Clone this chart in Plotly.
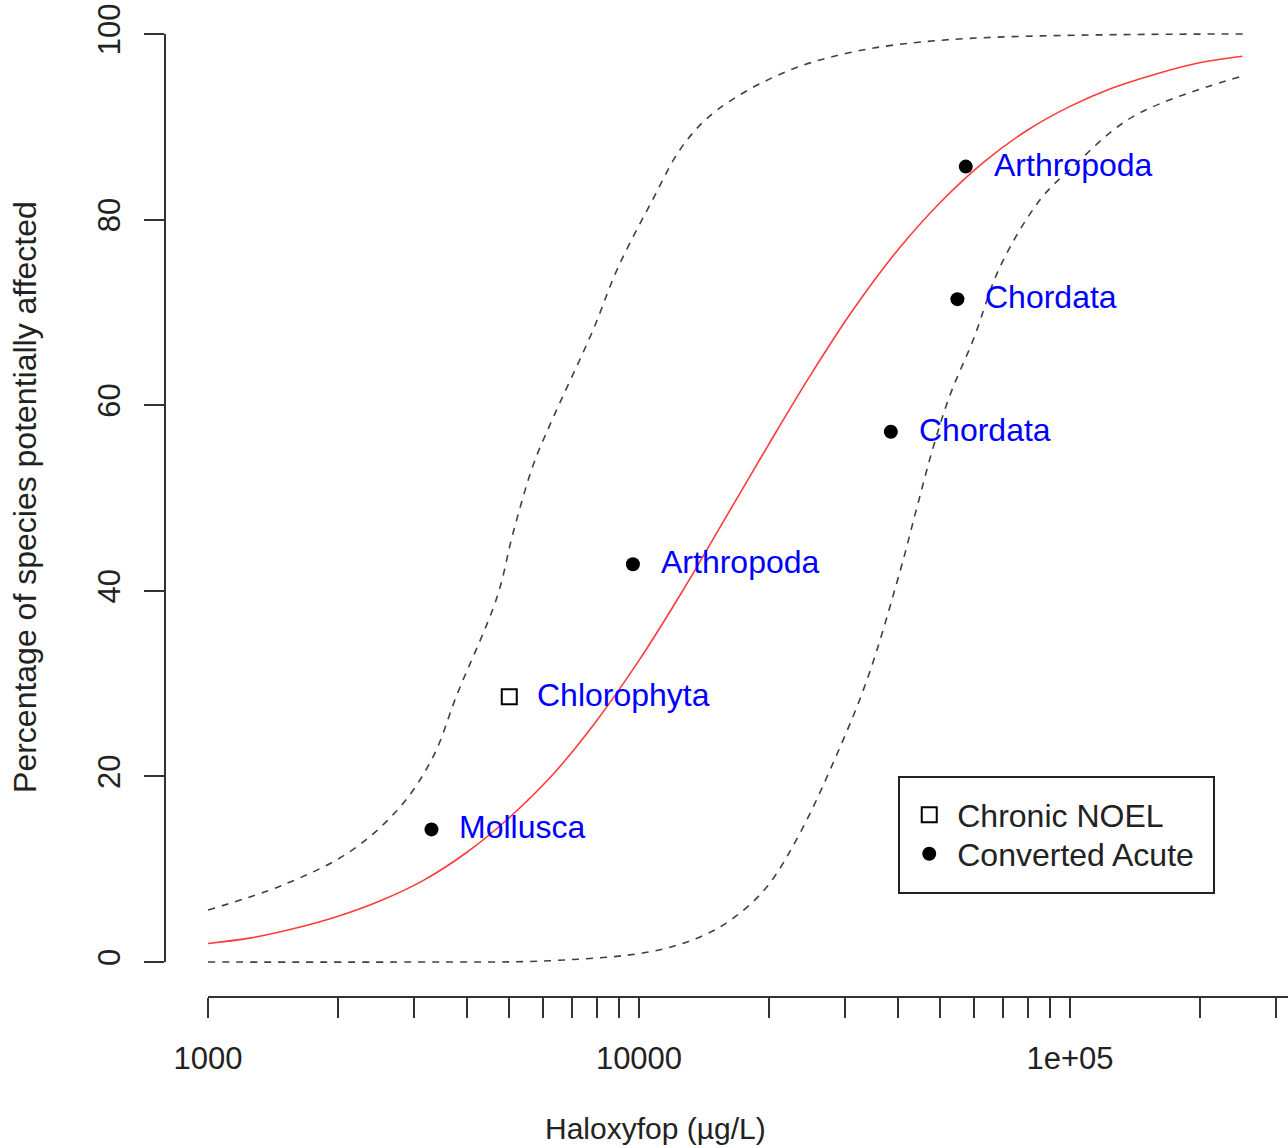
import numpy as np
import plotly.graph_objects as go

# ---------------- data ----------------
fit_x = [1000, 1259, 1585, 1995, 2512, 3162, 3981, 5012, 6310, 7943, 10000,
         12589, 15849, 19953, 25119, 31623, 39811, 50119, 63096, 79433,
         100000, 125893, 158489, 199526, 251189]
fit_y = [2.0, 2.6, 3.6, 4.9, 6.6, 8.8, 11.8, 15.6, 20.2, 25.9, 32.5,
         39.9, 47.8, 55.7, 63.4, 70.5, 76.7, 81.9, 86.2, 89.6,
         92.2, 94.2, 95.7, 96.9, 97.6]

lower_x = [1000, 3000, 6216, 10605, 13850, 16520, 19810, 23640, 28180, 33810,
           40330, 44150, 48100, 52680, 59570, 68790, 85140, 101600, 140000, 248000]
lower_y = [0.0, 0.0, 0.14, 1.1, 2.7, 4.7, 8.1, 13.9, 21.4, 30.4,
           42.1, 49.0, 55.4, 61.1, 67.0, 74.9, 82.1, 85.7, 91.1, 95.4]

upper_x = [1000, 1493, 2136, 2789, 3327, 3781, 4683, 5101, 5676, 6216, 7823,
           8892, 10605, 12650, 15171, 21580, 30870, 52680, 251960]
upper_y = [5.6, 8.3, 11.9, 16.7, 22.1, 28.8, 39.3, 46.2, 53.5, 57.9, 68.1,
           74.6, 81.6, 88.0, 91.8, 95.8, 98.0, 99.4, 100.0]

chronic_x = [5000]
chronic_y = [28.57]
chronic_lab = ["Chlorophyta"]

acute_x = [3300, 9680, 38400, 54800, 57300]
acute_y = [14.29, 42.86, 57.14, 71.43, 85.71]
acute_lab = ["Mollusca", "Arthropoda", "Chordata", "Chordata", "Arthropoda"]

x_tickvals = [1000, 2000, 3000, 4000, 5000, 6000, 7000, 8000, 9000,
              10000, 20000, 30000, 40000, 50000, 60000, 70000, 80000, 90000,
              100000, 200000, 300000]
x_ticktext = ["1000"] + [""] * 8 + ["10000"] + [""] * 8 + ["1e+05", "", ""]
y_tickvals = [0, 20, 40, 60, 80, 100]

# ---------------- figure ----------------
FONT = "Liberation Sans, Arial, Helvetica, sans-serif"
AX = "#333333"
TXT = "#222222"
xr = [2.90023, 5.50580]
yr = [-3.772, 103.664]

fig = go.Figure()

dash_style = dict(color="#404040", width=1.6, dash="7px,7px")
fig.add_trace(go.Scatter(x=lower_x, y=lower_y, mode="lines", line_shape="spline",
                         line=dash_style, showlegend=False, hoverinfo="skip"))
fig.add_trace(go.Scatter(x=upper_x, y=upper_y, mode="lines", line_shape="spline",
                         line=dash_style, showlegend=False, hoverinfo="skip"))
fig.add_trace(go.Scatter(x=fit_x, y=fit_y, mode="lines", line_shape="spline",
                         line=dict(color="#FF3B3B", width=1.6), showlegend=False))

fig.add_trace(go.Scatter(x=chronic_x, y=chronic_y, mode="markers", name="Chronic NOEL",
                         legend="legend",
                         marker=dict(symbol="square-open", size=15,
                                     color="black", line=dict(width=2, color="black"))))
fig.add_trace(go.Scatter(x=acute_x, y=acute_y, mode="markers", name="Converted Acute",
                         legend="legend2",
                         marker=dict(symbol="circle", size=14, color="black")))

annotations = []
for xs, ys, labs in [(chronic_x, chronic_y, chronic_lab), (acute_x, acute_y, acute_lab)]:
    for xv, yv, lab in zip(xs, ys, labs):
        annotations.append(dict(x=np.log10(xv), y=yv, xref="x", yref="y", text=lab,
                                showarrow=False, xanchor="left", yanchor="middle",
                                xshift=26, yshift=2,
                                font=dict(family=FONT, size=32, color="#0000FF")))

# axis titles
annotations.append(dict(x=0.4372, y=-0.1314, xref="paper", yref="paper",
                        text="Haloxyfop (µg/L)", showarrow=False,
                        xanchor="center", yanchor="middle",
                        font=dict(family=FONT, size=30, color=TXT)))
annotations.append(dict(x=-0.1247, y=0.5015, xref="paper", yref="paper",
                        text="Percentage of species potentially affected", showarrow=False,
                        textangle=-90, xanchor="center", yanchor="middle",
                        font=dict(family=FONT, size=32, color=TXT)))

x0p = (3 - xr[0]) / (xr[1] - xr[0])
shapes = [
    dict(type="line", xref="paper", yref="paper", x0=x0p, x1=1, y0=0, y1=0,
         line=dict(color=AX, width=2)),
    dict(type="line", xref="paper", yref="y", x0=0, x1=0, y0=0, y1=100,
         line=dict(color=AX, width=2)),
    dict(type="rect", xref="paper", yref="paper", x0=0.6536, x1=0.9341,
         y0=0.1043, y1=0.2207, line=dict(color=TXT, width=2)),
]

leg_common = dict(xanchor="left", yanchor="middle", bgcolor="rgba(0,0,0,0)",
                  borderwidth=0, itemwidth=46,
                  font=dict(family=FONT, size=32, color=TXT))

fig.update_layout(
    width=1288, height=1148,
    margin=dict(l=165, r=0, t=0, b=151),
    paper_bgcolor="white", plot_bgcolor="white",
    font=dict(family=FONT, size=30, color=TXT),
    annotations=annotations, shapes=shapes,
    legend=dict(x=0.6556, y=(997 - 815) / 997, **leg_common),
    legend2=dict(x=0.6556, y=(997 - 854) / 997, **leg_common),
    xaxis=dict(type="log", range=xr, showgrid=False, zeroline=False, showline=False,
               tickmode="array", tickvals=x_tickvals, ticktext=x_ticktext,
               ticks="outside", ticklen=20, tickwidth=2, tickcolor=AX,
               tickfont=dict(family=FONT, size=31, color=TXT),
               ticklabelstandoff=14),
    yaxis=dict(range=yr, showgrid=False, zeroline=False, showline=False,
               tickmode="array", tickvals=y_tickvals,
               ticks="outside", ticklen=20, tickwidth=2, tickcolor=AX,
               tickangle=-90,
               tickfont=dict(family=FONT, size=31, color=TXT),
               ticklabelstandoff=12),
)

fig.write_html("out.html")
